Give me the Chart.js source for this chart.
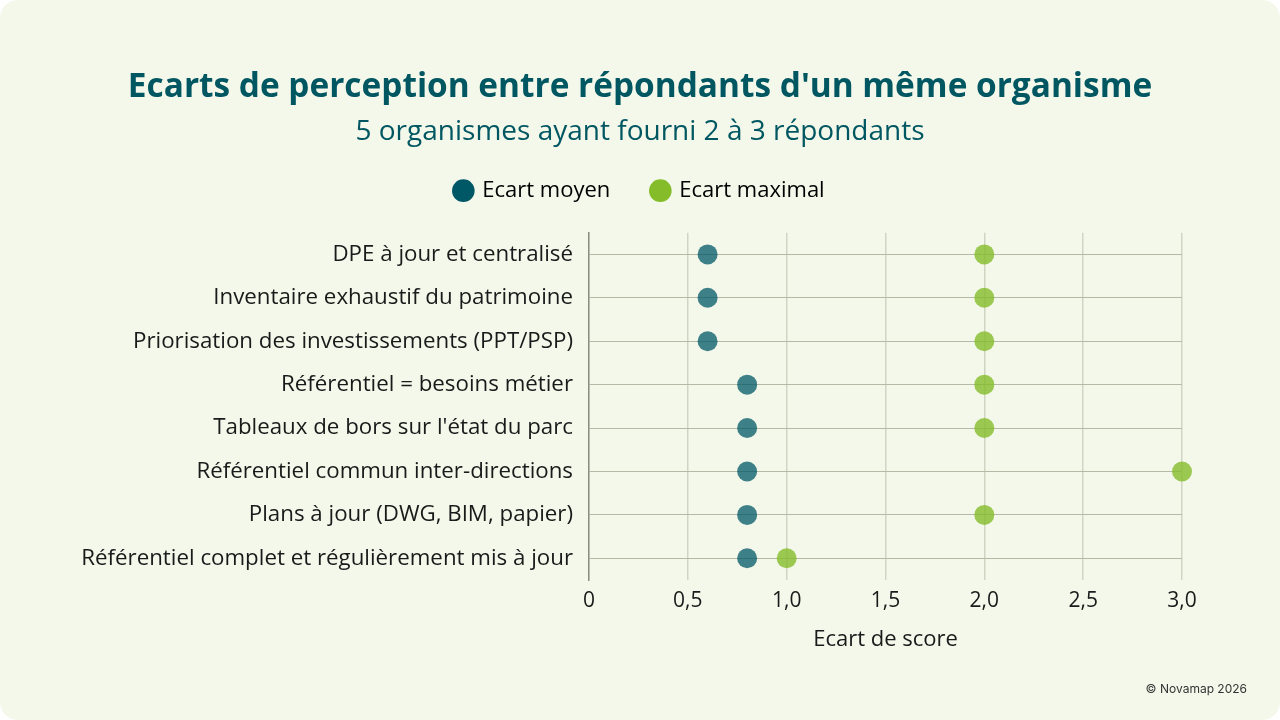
<!DOCTYPE html>
<html lang="fr">
<head>
<meta charset="utf-8">
<title>Ecarts de perception</title>
<script src="https://cdn.jsdelivr.net/npm/chart.js@4.4.1/dist/chart.umd.min.js"></script>
<style>
	html, body {
		margin: 0;
		padding: 0;
		background: #ffffff;
	}
	.card {
		position: relative;
		width: 1280px;
		height: 720px;
		background: #f4f8ea;
		border-radius: 18px;
		overflow: hidden;
	}
	canvas {
		position: absolute;
		left: 0;
		top: 0;
	}
	.credit {
		position: absolute;
		right: 33px;
		top: 681px;
		font-family: "Inter", "DejaVu Sans", sans-serif;
		font-size: 12px;
		color: #333333;
	}
</style>
</head>
<body>
<div class="card">
	<canvas id="gapChart" width="1280" height="720"></canvas>
	<div class="credit">© Novamap 2026</div>
</div>
<script>
	// données
	var categories = [
		'DPE à jour et centralisé',
		'Inventaire exhaustif du patrimoine',
		'Priorisation des investissements (PPT/PSP)',
		'Référentiel = besoins métier',
		"Tableaux de bors sur l'état du parc",
		'Référentiel commun inter-directions',
		'Plans à jour (DWG, BIM, papier)',
		'Référentiel complet et régulièrement mis à jour'
	];
	var ecartMoyen = [0.6, 0.6, 0.6, 0.8, 0.8, 0.8, 0.8, 0.8];
	var ecartMaximal = [2, 2, 2, 2, 2, 3, 2, 1];
	var xTicks = [0, 0.5, 1, 1.5, 2, 2.5, 3];

	var teal = '#005866';
	var green = '#84bc2a';
	var font = '"Open Sans", "Noto Sans", sans-serif';

	Chart.defaults.font.family = font;
	Chart.defaults.color = '#1a1a1a';

	// un peu d'air entre la légende et la zone de tracé
	var legendGap = {
		id: 'legendGap',
		beforeInit: function (chart) {
			var fit = chart.legend.fit;
			chart.legend.fit = function () {
				fit.call(this);
				this.height += 21;
			};
		}
	};

	var ctx = document.getElementById('gapChart').getContext('2d');
	var chart = new Chart(ctx, {
		type: 'line',
		data: {
			labels: categories,
			datasets: [
				{
					label: 'Ecart moyen',
					data: ecartMoyen,
					solid: teal,
					showLine: false,
					clip: false,
					pointRadius: 10,
					pointHoverRadius: 10,
					pointBorderWidth: 0,
					pointBackgroundColor: 'rgba(0, 88, 102, 0.75)',
					backgroundColor: 'rgba(0, 88, 102, 0.75)'
				},
				{
					label: 'Ecart maximal',
					data: ecartMaximal,
					solid: green,
					showLine: false,
					clip: false,
					pointRadius: 10,
					pointHoverRadius: 10,
					pointBorderWidth: 0,
					pointBackgroundColor: 'rgba(132, 188, 42, 0.8)',
					backgroundColor: 'rgba(132, 188, 42, 0.8)'
				}
			]
		},
		plugins: [legendGap],
		options: {
			responsive: false,
			animation: false,
			indexAxis: 'y',
			layout: {
				padding: { top: 67, right: 0, bottom: 0, left: 0 }
			},
			plugins: {
				title: {
					display: true,
					text: "Ecarts de perception entre répondants d'un même organisme",
					color: '#005762',
					font: { size: 33.4, weight: 'bold' },
					padding: { top: 0, bottom: 8 }
				},
				subtitle: {
					display: true,
					text: '5 organismes ayant fourni 2 à 3 répondants',
					color: '#005762',
					font: { size: 28, weight: 'normal' },
					padding: { top: 0, bottom: -11 }
				},
				legend: {
					position: 'top',
					labels: {
						usePointStyle: true,
						pointStyle: 'circle',
						boxWidth: 16,
						boxHeight: 16,
						padding: 42,
						color: '#1a1a1a',
						font: { size: 22 },
						generateLabels: function (c) {
							return c.data.datasets.map(function (ds, i) {
								return {
									text: ds.label,
									fillStyle: ds.solid,
									strokeStyle: ds.solid,
									lineWidth: 0,
									pointStyle: 'circle',
									hidden: !c.isDatasetVisible(i),
									datasetIndex: i
								};
							});
						}
					}
				},
				tooltip: { enabled: false }
			},
			scales: {
				x: {
					type: 'linear',
					min: 0,
					max: 3,
					afterBuildTicks: function (scale) {
						scale.ticks = xTicks.map(function (v) { return { value: v }; });
					},
					afterFit: function (scale) {
						scale.height = 140;
					},
					ticks: {
						padding: 8,
						color: '#1a1a1a',
						font: { size: 21 },
						callback: function (v) {
							return v === 0 ? '0' : v.toFixed(1).replace('.', ',');
						}
					},
					grid: {
						color: '#d0d5c3',
						lineWidth: 1.5,
						drawTicks: false
					},
					border: { display: false },
					title: {
						display: true,
						text: 'Ecart de score',
						color: '#1a1a1a',
						font: { size: 22 },
						padding: { top: 8, bottom: 67 }
					}
				},
				y: {
					type: 'category',
					offset: true,
					afterFit: function (scale) {
						scale.width = 589;
					},
					ticks: {
						padding: 16,
						color: '#1a1a1a',
						font: { size: 22.3 }
					},
					grid: {
						offset: false,
						color: '#b4baa6',
						lineWidth: 1,
						drawTicks: false
					},
					border: {
						display: true,
						color: '#8a8f82',
						width: 1.5
					}
				},
				// marge vide à droite, pour garder titre et légende centrés sur la page
				yRight: {
					type: 'category',
					position: 'right',
					afterFit: function (scale) {
						scale.width = 98;
					},
					ticks: { display: false },
					grid: { display: false },
					border: { display: false }
				}
			}
		}
	});
</script>
</body>
</html>
